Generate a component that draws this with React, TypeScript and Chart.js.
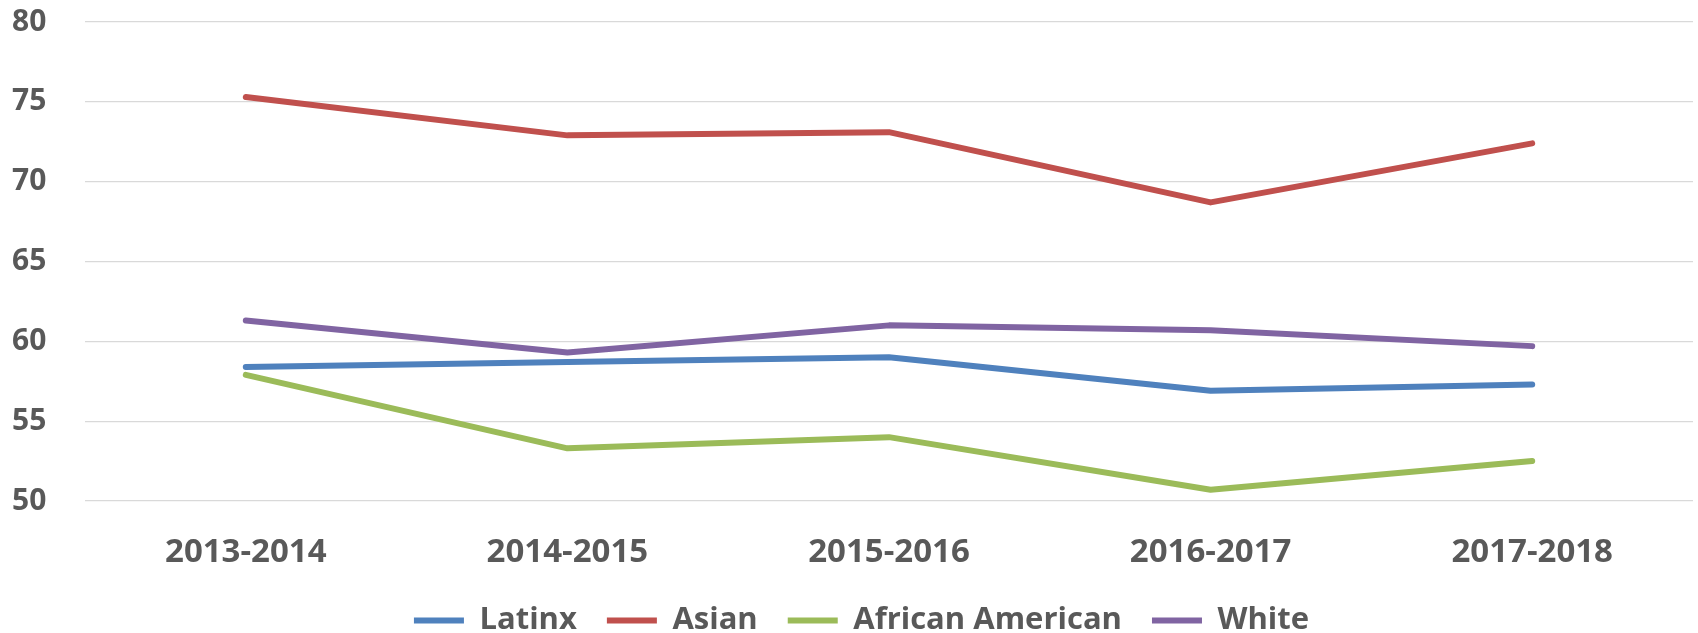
import React, { useEffect, useRef } from "react";
import { Chart, registerables } from "chart.js";

Chart.register(...registerables);

const categories = ["2013-2014", "2014-2015", "2015-2016", "2016-2017", "2017-2018"];
const latinx = [58.4, 58.7, 59.0, 56.9, 57.3];
const asian = [75.3, 72.9, 73.1, 68.7, 72.4];
const africanAmerican = [57.9, 53.3, 54.0, 50.7, 52.5];
const white = [61.3, 59.3, 61.0, 60.7, 59.7];
const seriesNames = ["Latinx", "Asian", "African American", "White"];
const seriesColors = ["#4F81BD", "#C0504D", "#9BBB59", "#8064A2"];

const W = 1698;
const H = 648;
const LEGEND_SHIFT = 9;

const shiftLegend = {
  id: "shiftLegend",
  afterLayout(chart: any) {
    const lg = chart.legend;
    if (lg) {
      lg.left += LEGEND_SHIFT;
      lg.right += LEGEND_SHIFT;
      if (lg.legendHitBoxes) {
        lg.legendHitBoxes.forEach((b: any) => (b.left += LEGEND_SHIFT));
      }
    }
  },
};

export default function App() {
  const ref = useRef<HTMLCanvasElement | null>(null);

  useEffect(() => {
    document.body.style.margin = "0";
    document.body.style.overflow = "hidden";
    const canvas = ref.current;
    if (!canvas) return;
    const values = [latinx, asian, africanAmerican, white];
    const chart = new Chart(canvas, {
      type: "line",
      plugins: [shiftLegend],
      data: {
        labels: categories,
        datasets: values.map((v, i) => ({
          label: seriesNames[i],
          data: v,
          borderColor: seriesColors[i],
          backgroundColor: seriesColors[i],
          borderWidth: 6,
          pointRadius: 0,
          pointHoverRadius: 0,
          tension: 0,
          borderCapStyle: "round",
          borderJoinStyle: "round",
          fill: false,
        })),
      },
      options: {
        responsive: false,
        animation: false,
        devicePixelRatio: 1,
        layout: { autoPadding: false, padding: { top: 22, right: 5, bottom: 2, left: 12 } },
        plugins: {
          tooltip: { enabled: false },
          legend: {
            display: true,
            position: "bottom",
            labels: {
              usePointStyle: true,
              pointStyle: "line",
              pointStyleWidth: 50,
              padding: 30,
              color: "#595959",
              font: { family: "'Open Sans'", weight: "bold", size: 31 },
            },
          },
        },
        scales: {
          x: {
            offset: true,
            grid: { display: false, drawTicks: false },
            border: { display: false },
            ticks: {
              color: "#595959",
              padding: 32,
              maxRotation: 0,
              font: { family: "'Open Sans'", weight: "bold", size: 33 },
            },
            afterFit: (scale: any) => {
              scale.height = 74;
            },
          },
          y: {
            min: 50,
            max: 80,
            ticks: {
              stepSize: 5,
              color: "#595959",
              padding: 2,
              crossAlign: "far",
              font: { family: "'Open Sans'", weight: "bold", size: 30 },
            },
            grid: { color: "#D9D9D9", lineWidth: 1.3, drawTicks: false },
            border: { display: false },
            afterFit: (scale: any) => {
              scale.width = 73;
            },
          },
        },
      },
    });
    return () => chart.destroy();
  }, []);

  return (
    <div style={{ width: W, height: 633, overflow: "hidden", background: "#fff" }}>
      <canvas ref={ref} width={W} height={H} style={{ display: "block" }} />
    </div>
  );
}
